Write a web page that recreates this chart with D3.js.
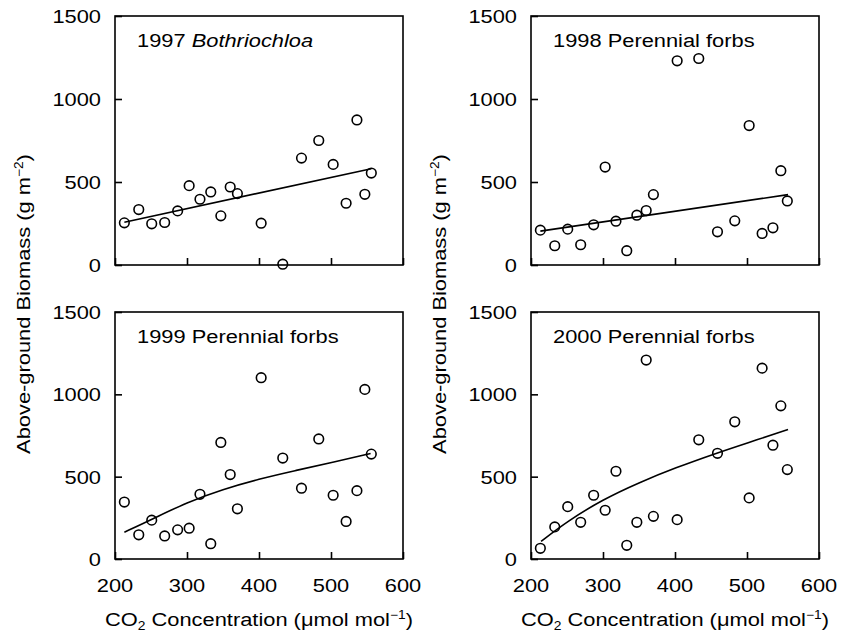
<!DOCTYPE html>
<html>
<head>
<meta charset="utf-8">
<script src="https://cdn.jsdelivr.net/npm/d3@7/dist/d3.min.js"></script>
<style>
  body { margin: 0; background: #fff; }
  svg { display: block; font-family: "Liberation Sans", Arial, sans-serif; }
</style>
</head>
<body>
<div id="chart"></div>
<script>
// CO2 levels of the chambers (same in every year)
const co2 = [213, 233, 251, 269, 287, 303, 318, 333, 347, 360, 370, 403, 433, 459, 483, 503, 521, 536, 547, 556];

// above-ground biomass, g m-2
const biomass1997 = [254, 334, 248, 256, 326, 478, 396, 440, 296, 470, 430, 252, 5, 644, 750, 606, 372, 874, 426, 554];
const biomass1998 = [210, 116, 216, 122, 242, 590, 264, 86, 300, 328, 424, 1230, 1244, 200, 266, 840, 190, 224, 568, 386];
const biomass1999 = [346, 147, 236, 140, 177, 187, 393, 93, 708, 513, 305, 1101, 613, 430, 729, 387, 228, 415, 1030, 637];
const biomass2000 = [65, 195, 318, 223, 387, 296, 533, 83, 223, 1208, 259, 239, 724, 642, 833, 371, 1159, 691, 930, 543];

// fitted lines [co2, biomass]
const fit1997 = [[213, 258], [556, 580]];
const fit1998 = [[213, 204], [557, 424]];
const fit1999 = [[213, 163], [251, 240], [300, 345], [350, 424], [400, 486], [450, 537], [500, 584], [555, 641]];
const fit2000 = [[214, 107], [250, 228], [300, 362], [350, 464], [400, 553], [459, 645], [500, 704], [557, 786]];

const xTicks = [200, 300, 400, 500, 600];
const yTicks = [0, 500, 1000, 1500];

const panels = [
  { year: '1997', name: 'Bothriochloa', italic: true, values: biomass1997, fit: fit1997, col: 0, row: 0 },
  { year: '1998', name: 'Perennial forbs', italic: false, values: biomass1998, fit: fit1998, col: 1, row: 0 },
  { year: '1999', name: 'Perennial forbs', italic: false, values: biomass1999, fit: fit1999, col: 0, row: 1 },
  { year: '2000', name: 'Perennial forbs', italic: false, values: biomass2000, fit: fit2000, col: 1, row: 1 }
];

const width = 852, height = 635;
const colX = [[115, 403], [531, 819]];
const rowY = [[16, 265], [312, 559]];
const fontSize = 19;
const stretch = 1.15; // the original lettering is a bit wider than Arial

const svg = d3.select('#chart').append('svg')
  .attr('width', width)
  .attr('height', height);

// text placed at (x, y), widened horizontally like the source figure
function addText(parent, x, y, anchor, rotate) {
  return parent.append('text')
    .attr('transform', `translate(${x},${y})` + (rotate ? ` rotate(${rotate})` : '') + ` scale(${stretch},1)`)
    .attr('text-anchor', anchor || 'start')
    .attr('font-size', fontSize);
}

panels.forEach(p => {
  const [x0, x1] = colX[p.col];
  const [y0, y1] = rowY[p.row];
  const x = d3.scaleLinear().domain([200, 600]).range([x0, x1]);
  const y = d3.scaleLinear().domain([0, 1500]).range([y1, y0]);

  const g = svg.append('g');

  // frame
  g.append('rect')
    .attr('x', x0).attr('y', y0)
    .attr('width', x1 - x0).attr('height', y1 - y0)
    .attr('fill', 'none')
    .attr('stroke', '#000')
    .attr('stroke-width', 1.6);

  // inward ticks
  const yAxis = d3.axisRight(y).tickValues(yTicks).tickSize(7).tickFormat('');
  g.append('g').attr('transform', `translate(${x0},0)`).call(yAxis)
    .call(s => s.select('.domain').remove())
    .selectAll('line').attr('stroke-width', 1.6);

  const xAxis = d3.axisTop(x).tickValues(xTicks).tickSize(7).tickFormat('');
  g.append('g').attr('transform', `translate(0,${y1})`).call(xAxis)
    .call(s => s.select('.domain').remove())
    .selectAll('line').attr('stroke-width', 1.6);

  // y tick labels
  yTicks.forEach(v => {
    addText(g, x0 - 14, y(v), 'end').attr('dy', '0.36em').text(v);
  });

  // x tick labels only on bottom row
  if (p.row === 1) {
    xTicks.forEach(v => {
      addText(g, x(v), y1 + 33, 'middle').text(v);
    });

    const xl = addText(g, (x0 + x1) / 2, y1 + 67, 'middle');
    xl.append('tspan').text('CO');
    xl.append('tspan').attr('font-size', 12).attr('dy', 4).text('2');
    xl.append('tspan').attr('dy', -4).text(' Concentration (μmol mol');
    xl.append('tspan').attr('font-size', 12).attr('dy', -7).text('−1');
    xl.append('tspan').attr('dy', 7).text(')');
  }

  // y axis title once per column, centred between the two rows
  if (p.row === 0) {
    const yl = addText(g, x0 - 85, 304, 'middle', -90);
    yl.append('tspan').text('Above-ground Biomass (g m');
    yl.append('tspan').attr('font-size', 12).attr('dy', -7).text('−2');
    yl.append('tspan').attr('dy', 7).text(')');
  }

  // panel title
  const t = addText(g, x0 + 22, y0 + 31, 'start');
  t.append('tspan').text(p.year + ' ');
  t.append('tspan').attr('font-style', p.italic ? 'italic' : 'normal').text(p.name);

  // fitted line
  const line = d3.line()
    .x(d => x(d[0]))
    .y(d => y(d[1]))
    .curve(d3.curveBasis);
  g.append('path')
    .datum(p.fit)
    .attr('d', line)
    .attr('fill', 'none')
    .attr('stroke', '#000')
    .attr('stroke-width', 1.6);

  // points
  g.selectAll('.pt')
    .data(co2.map((c, i) => ({ c, v: p.values[i] })))
    .enter()
    .append('circle')
    .attr('class', 'pt')
    .attr('cx', d => x(d.c))
    .attr('cy', d => y(d.v))
    .attr('r', 4.8)
    .attr('fill', 'none')
    .attr('stroke', '#000')
    .attr('stroke-width', 1.6);
});
</script>
</body>
</html>
